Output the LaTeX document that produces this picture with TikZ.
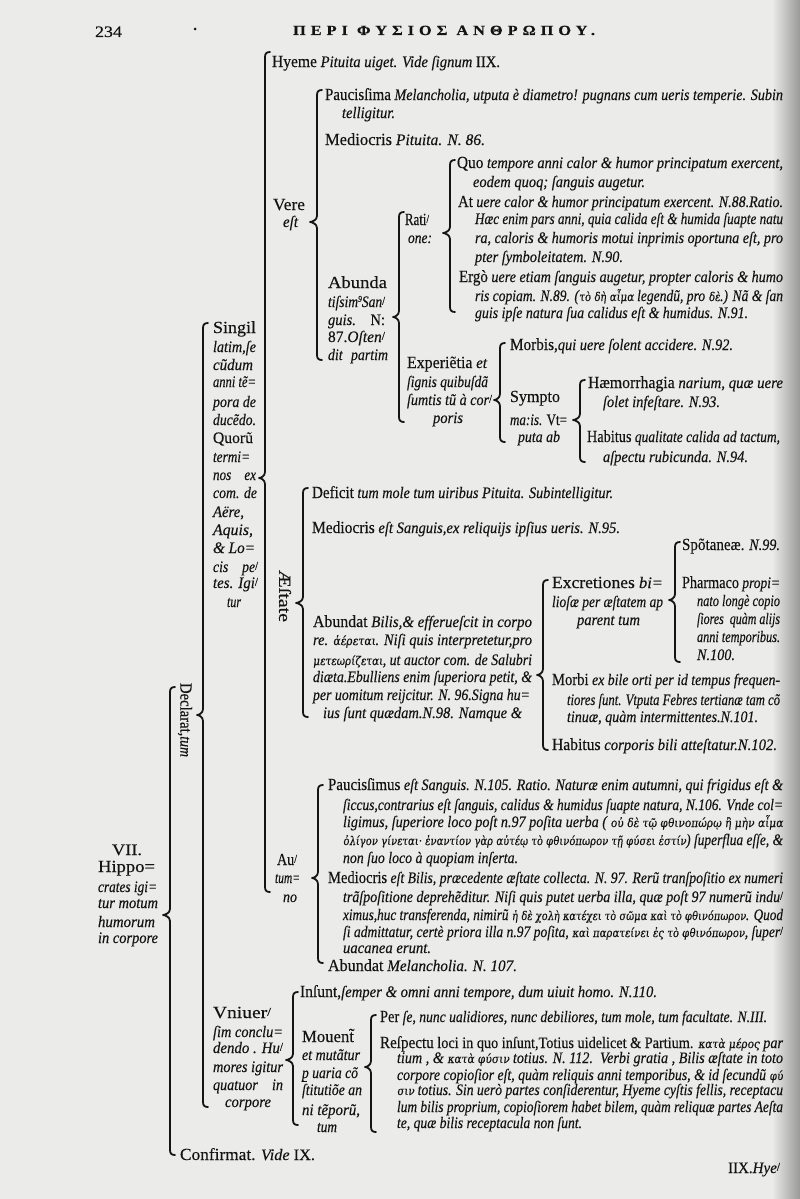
\documentclass[tikz,border=0pt]{standalone}
\usepackage{fontspec}
\setmainfont{Liberation Serif}[FakeBold=0.35]
\newfontfamily\grkfont[FakeSlant=0.15,FakeBold=0.3]{DejaVu Serif}
\usepackage{graphicx}
\definecolor{paper}{RGB}{235,235,233}
\definecolor{ink}{RGB}{20,20,20}
\newcommand\R[1]{{\upshape\fontsize{17}{17}\selectfont #1}}
\newcommand\Rs[1]{{\upshape #1}}
\newcommand\G[1]{{\upshape\grkfont\fontsize{12}{12}\selectfont #1}}
\newcommand\hy{\raisebox{.3ex}{\upshape\scalebox{.75}{/}}}
\newcommand\nine{\raisebox{.7ex}{\fontsize{9}{9}\selectfont 9}}
\newcommand\pbar{\makebox[0pt][l]{\rule[-3.2pt]{6pt}{0.7pt}}p}
\newcommand\Tf[5]{\node[txt] (#1) at (#2,#3+5) {\resizebox{#4pt}{\height}{#5}};}
\newcommand\brc[6]{%
  \coordinate (#1) at (#5,#6);
  \draw[brace] (#2+5,#3) .. controls (#2+1.5,#3) and (#2,#3+1.5) .. (#2,#3+5)
    -- (#2,#6-6) .. controls (#2,#6-2) and (#5+2,#6) .. (#1)
    .. controls (#5+2,#6) and (#2,#6+2) .. (#2,#6+6)
    -- (#2,#4-5) .. controls (#2,#4-1.5) and (#2+1.5,#4) .. (#2+5,#4);}
\begin{document}
\begin{tikzpicture}[x=1pt,y=-1pt,
  txt/.style={anchor=base west,inner sep=0pt,outer sep=0pt,text=ink,font=\fontsize{16}{16}\selectfont\itshape},
  brace/.style={draw=ink,line width=1.8pt,line cap=round,line join=round}]
\fill[paper] (0,0) rectangle (800,1199);
\useasboundingbox (0,0) rectangle (800,1199);
\shade[left color=paper,right color=black!40] (772,0) rectangle (800,1199);
% header
\node[txt,font=\fontsize{16}{16}\selectfont\upshape] (pg) at (95,37) {\resizebox{27pt}{\height}{234}};
\fill[ink] (195,29) circle (1.5pt);
\node[txt,font=\fontsize{14}{14}\selectfont\upshape\bfseries] (hdr) at (293,35) {\resizebox{302pt}{\height}{\addfontfeature{LetterSpace=30}ΠΕΡΙ ΦΥΣΙΟΣ ΑΝΘΡΩΠΟΥ.}};
% root
\Tf{vii}{112}{850}{30}{\Rs{VII.}}
\Tf{hipa}{98}{867}{57}{\R{Hippo=}}
\Tf{hipb}{98}{887}{59}{crates igi=}
\Tf{hipc}{98}{903}{60}{tur motum}
\Tf{hipd}{98}{922}{57}{humorum}
\Tf{hipe}{98}{938}{60}{in corpore}
\brc{broot}{170}{687}{1155}{163}{915}
\node[txt,rotate=-90,anchor=center] (decl) at (185,720) {\resizebox{74pt}{\height}{\R{Declarat,}tum}};
\Tf{conf}{180}{1155}{135}{\R{Confirmat.} Vide \Rs{IX.}}
\brc{bdecl}{203}{323}{1107}{197}{715}
% singillatim
\Tf{sa}{213}{328}{43}{\R{Singil}}
\Tf{sb}{213}{347}{43}{latim,ſe}
\Tf{sc}{213}{365}{40}{cũdum}
\Tf{sd}{213}{382}{43}{anni tẽ=}
\Tf{se}{213}{402}{43}{pora de}
\Tf{sf}{213}{420}{43}{ducẽdo.}
\Tf{sg}{213}{438}{40}{\Rs{Quorũ}}
\Tf{sh}{213}{457}{37}{termi=}
\Tf{si}{213}{475}{43}{nos\hspace{1em}ex}
\Tf{sj}{213}{493}{44}{com. de}
\Tf{sk}{213}{512}{31}{Aëre,}
\Tf{sl}{213}{530}{40}{Aquis,}
\Tf{sm}{213}{548}{42}{\&\ Lo=}
\Tf{sn}{213}{567}{45}{cis\hspace{1em}pe\hy}
\Tf{so}{213}{583}{45}{tes. Igi\hy}
\Tf{sp}{227}{602}{14}{tur}
\brc{bsing}{265}{52}{892}{259}{478}
% hyeme
\Tf{hy}{272}{62}{228}{\R{Hyeme} Pituita uiget. Vide ſignum \Rs{IIX.}}
% vere
\Tf{vea}{273}{205}{32}{\R{Vere}}
\Tf{veb}{283}{222}{15}{eſt}
\brc{bvere}{317}{90}{360}{310}{222}
\Tf{pa}{325}{95}{458}{\R{Paucisſima} Melancholia, utputa è diametro! pugnans cum ueris temperie. Subin}
\Tf{pb}{342}{113}{53}{telligitur.}
\Tf{me}{325}{140}{160}{\R{Mediocris} Pituita. N. 86.}
\Tf{aba}{328}{283}{59}{\R{Abunda}}
\Tf{abb}{328}{302}{57}{tiſsim\nine San\hy}
\Tf{abc}{328}{320}{57}{guis.\hspace{1em}\Rs{N:}}
\Tf{abd}{328}{337}{57}{\Rs{87.}Oſten\hy}
\Tf{abe}{328}{355}{60}{dit\hspace{.6em}partim}
\brc{babund}{399}{212}{422}{393}{317}
\Tf{raa}{405}{220}{24}{\R{Rati}\hy}
\Tf{rab}{408}{238}{24}{one:}
\brc{brat}{450}{160}{312}{443}{233}
\Tf{qa}{457}{163}{326}{\R{Quo} tempore anni calor \& humor principatum exercent,}
\Tf{qb}{473}{182}{172}{eodem quoq; ſanguis augetur.}
\Tf{qc}{458}{202}{325}{\R{At} uere calor \& humor principatum exercent. N.88.Ratio.}
\Tf{qd}{475}{219}{308}{Hæc enim pars anni, quia calida eſt \& humida ſuapte natu}
\Tf{qe}{475}{238}{308}{ra, caloris \& humoris motui inprimis oportuna eſt, pro}
\Tf{qf}{475}{257}{148}{pter ſymboleitatem. N.90.}
\Tf{qg}{459}{277}{324}{\R{Ergò} uere etiam ſanguis augetur, propter caloris \& humo}
\Tf{qh}{475}{296}{308}{ris copiam. N.89. (\G{τὸ δὴ αἷμα} legendũ, pro \G{δὲ}.) Nã \& ſan}
\Tf{qi}{475}{313}{273}{guis ipſe natura ſua calidus eſt \& humidus. N.91.}
\Tf{exa}{407}{363}{80}{\R{Experiẽtia} et}
\Tf{exb}{407}{382}{81}{ſignis quibuſdã}
\Tf{exc}{407}{400}{85}{ſumtis tũ à cor\hy}
\Tf{exd}{433}{418}{30}{poris}
\brc{bexp}{500}{343}{442}{494}{400}
\Tf{mo}{510}{345}{223}{\R{Morbis,}qui uere ſolent accidere. N.92.}
\Tf{sya}{510}{397}{50}{\R{Sympto}}
\Tf{syb}{510}{420}{57}{ma:is. \Rs{Vt=}}
\Tf{syc}{518}{437}{42}{puta ab}
\brc{bsym}{580}{380}{462}{573}{420}
\Tf{ha}{588}{383}{195}{\R{Hæmorrhagia} narium, quæ uere}
\Tf{hb}{603}{402}{117}{ſolet infeſtare. N.93.}
\Tf{hc}{587}{437}{193}{\R{Habitus} qualitate calida ad tactum,}
\Tf{hd}{603}{457}{145}{aſpectu rubicunda. N.94.}
% aestate
\node[txt,rotate=-90,anchor=center] (aest) at (285,596) {\resizebox{52pt}{\height}{\R{Æſtate}}};
\brc{baest}{303}{488}{717}{296}{603}
\Tf{de}{312}{493}{301}{\R{Deficit} tum mole tum uiribus Pituita. Subintelligitur.}
\Tf{mf}{312}{528}{308}{\R{Mediocris} eſt Sanguis,ex reliquijs ipſius ueris. N.95.}
\Tf{ba}{313}{622}{219}{\R{Abundat} Bilis,\& efferueſcit in corpo}
\Tf{bb}{313}{640}{219}{re. \G{ἀέρεται}. Niſi quis interpretetur,pro}
\Tf{bc}{313}{660}{219}{\G{μετεωρίζεται}, ut auctor com. de Salubri}
\Tf{bd}{313}{677}{219}{diæta.Ebulliens enim ſuperiora petit, \&}
\Tf{be}{313}{695}{217}{per uomitum reijcitur. N. 96.Signa hu=}
\Tf{bf}{323}{713}{199}{ius ſunt quædam.N.98. Namque \&}
\brc{bbil}{543}{580}{750}{537}{675}
\Tf{xa}{552}{583}{111}{\R{Excretiones} bi=}
\Tf{xb}{552}{602}{111}{lioſæ per æſtatem ap}
\Tf{xc}{577}{620}{63}{parent tum}
\brc{bexc}{675}{542}{662}{669}{600}
\Tf{spa}{682}{545}{98}{\R{Spõtaneæ.} N.99.}
\Tf{pha}{682}{583}{98}{\R{Pharmaco} propi=}
\Tf{phb}{697}{601}{83}{nato longè copio}
\Tf{phc}{697}{619}{83}{ſiores\hspace{.5em}quàm alijs}
\Tf{phd}{697}{637}{83}{anni temporibus.}
\Tf{phe}{697}{655}{38}{N.100.}
\Tf{mba}{552}{680}{228}{\R{Morbi} ex bile orti per id tempus frequen-}
\Tf{mbb}{567}{700}{213}{tiores ſunt. Vtputa Febres tertianæ tam cõ}
\Tf{mbc}{567}{717}{191}{tinuæ, quàm intermittentes.N.101.}
\Tf{hab}{552}{745}{225}{\R{Habitus} corporis bili atteſtatur.N.102.}
% autumno
\Tf{aua}{277}{860}{20}{\R{Au}\hy}
\Tf{aub}{275}{878}{25}{tum=}
\Tf{auc}{283}{897}{14}{no}
\brc{baut}{318}{785}{963}{312}{878}
\Tf{ta}{328}{785}{455}{\R{Paucisſimus} eſt Sanguis. N.105. Ratio. Naturæ enim autumni, qui frigidus eſt \&}
\Tf{tb}{343}{805}{440}{ſiccus,contrarius eſt ſanguis, calidus \& humidus ſuapte natura, N.106. Vnde col=}
\Tf{tc}{343}{822}{440}{ligimus, ſuperiore loco poſt n.97 poſita uerba ( \G{οὐ δὲ τῷ φθινοπώρῳ ἢ μὴν αἷμα}}
\Tf{td}{343}{840}{440}{\G{ὀλίγον γίνεται· ἐναντίον γὰρ αὐτέῳ τὸ φθινόπωρον τῇ φύσει ἐστίν}) ſuperflua eſſe, \&}
\Tf{te}{343}{858}{175}{non ſuo loco à quopiam inſerta.}
\Tf{tf}{328}{878}{455}{\R{Mediocris} eſt Bilis, præcedente æſtate collecta. N. 97. Rerũ tranſpoſitio ex numeri}
\Tf{tg}{343}{897}{440}{trãſpoſitione deprehẽditur. Niſi quis putet uerba illa, quæ poſt 97 numerũ indu\hy}
\Tf{th}{343}{915}{440}{ximus,huc transferenda, nimirũ \G{ἡ δὲ χολὴ κατέχει τὸ σῶμα καὶ τὸ φθινόπωρον}. Quod}
\Tf{ti}{343}{932}{440}{ſi admittatur, certè priora illa n.97 poſita, \G{καὶ παρατείνει ἐς τὸ φθινόπωρον}, ſuper\hy}
\Tf{tj}{343}{948}{88}{uacanea erunt.}
\Tf{tk}{328}{966}{189}{\R{Abundat} Melancholia. N. 107.}
% universim
\Tf{va}{213}{1013}{58}{\R{Vniuer}\hy}
\Tf{vb}{213}{1032}{70}{ſim conclu=}
\Tf{vc}{213}{1048}{70}{dendo . Hu\hy}
\Tf{vd}{213}{1067}{70}{mores igitur}
\Tf{ve}{213}{1085}{70}{quatuor\hspace{1em}in}
\Tf{vf}{225}{1102}{46}{corpore}
\brc{buni}{293}{992}{1125}{286}{1060}
\Tf{ins}{300}{992}{357}{\R{Inſunt,}ſemper \& omni anni tempore, dum uiuit homo. N.110.}
\Tf{moa}{302}{1037}{52}{\R{Mouent̃}}
\Tf{mob}{302}{1055}{58}{et mutãtur}
\Tf{moc}{302}{1073}{56}{\pbar\ uaria cõ}
\Tf{mod}{302}{1090}{60}{ſtitutiõe an}
\Tf{moe}{302}{1110}{58}{ni tẽporũ,}
\Tf{mof}{317}{1127}{20}{tum}
\brc{bmou}{371}{1015}{1132}{365}{1067}
\Tf{pe}{380}{1017}{387}{\R{Per} ſe, nunc ualidiores, nunc debiliores, tum mole, tum facultate. N.III.}
\Tf{ra}{380}{1043}{403}{\R{Reſpectu} \Rs{loci in quo inſunt,Totius uidelicet \& Partium.} \G{κατὰ μέρος} par}
\Tf{rb}{397}{1058}{386}{tium , \& \G{κατὰ φύσιν} totius. N. 112.\ \ Verbi gratia , Bilis æſtate in toto}
\Tf{rc}{397}{1075}{386}{corpore copioſior eſt, quàm reliquis anni temporibus, \& id ſecundũ \G{φύ}}
\Tf{rd}{397}{1090}{386}{\G{σιν} totius. Sin uerò partes conſiderentur, Hyeme cyſtis fellis, receptacu}
\Tf{re}{397}{1107}{386}{lum bilis proprium, copioſiorem habet bilem, quàm reliquæ partes Aeſta}
\Tf{rf}{397}{1123}{185}{te, quæ bilis receptacula non ſunt.}
% catchword
\Tf{cw}{728}{1168}{52}{\Rs{IIX.}Hye\hy}
\end{tikzpicture}
\end{document}
